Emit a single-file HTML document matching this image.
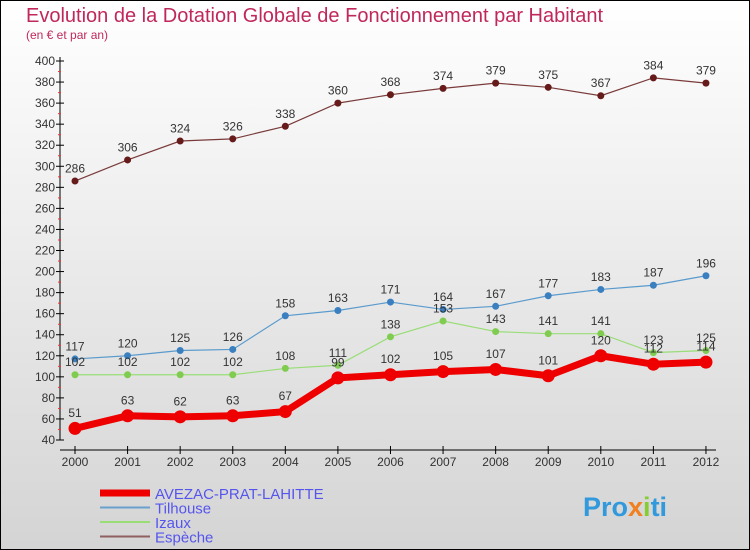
<!DOCTYPE html>
<html><head><meta charset="utf-8"><style>
body{margin:0;width:750px;height:550px;overflow:hidden;font-family:"Liberation Sans",sans-serif}
svg{display:block}
</style></head><body>
<svg id="c" width="750" height="550" xmlns="http://www.w3.org/2000/svg">
<defs><linearGradient id="bg" x1="0" y1="0" x2="0" y2="1"><stop offset="0" stop-color="#ffffff"/><stop offset="1" stop-color="#d4d4d4"/></linearGradient></defs>
<rect x="0.5" y="0.5" width="749" height="549" fill="url(#bg)" stroke="#000"/>
<text x="26" y="22" font-size="20" fill="#c0285a">Evolution de la Dotation Globale de Fonctionnement par Habitant</text>
<text x="26" y="39" font-size="12" fill="#c0285a">(en € et par an)</text>
<g id="axes"></g><g id="series"></g><g id="legend"></g>
<text x="583" y="516" font-size="27" font-weight="bold" fill="#3399dd">Pro<tspan fill="#f08020">x</tspan><tspan fill="#88cc33">i</tspan>ti</text>
</svg>
<script>
const years=[2000,2001,2002,2003,2004,2005,2006,2007,2008,2009,2010,2011,2012];
const yTicks=[40,60,80,100,120,140,160,180,200,220,240,260,280,300,320,340,360,380,400];
const avezac=[51,63,62,63,67,99,102,105,107,101,120,112,114];
const tilhouse=[117,120,125,126,158,163,171,164,167,177,183,187,196];
const izaux=[102,102,102,102,108,111,138,153,143,141,141,123,125];
const espeche=[286,306,324,326,338,360,368,374,379,375,367,384,379];
const NS="http://www.w3.org/2000/svg";
const X=i=>75+i*52.58, Y=v=>440-(v-40)*(379/360);
function mk(t,a,p){const e=document.createElementNS(NS,t);for(const k in a)e.setAttribute(k,a[k]);(p||document.getElementById('c')).appendChild(e);return e;}
const ax=document.getElementById('axes');
let yl=mk('line',{x1:60,y1:57,x2:60,y2:440,stroke:'#000'},ax);

let xl=mk('line',{x1:60,y1:450,x2:716,y2:450,stroke:'#000'},ax);

yTicks.forEach((v,i)=>{const y=Y(v);mk('line',{x1:56,y1:y,x2:64,y2:y,stroke:'#000'},ax);
if(i<yTicks.length-1)mk('line',{x1:58,y1:y-10.5,x2:61,y2:y-10.5,stroke:'#e33'},ax);
const t=mk('text',{x:55,y:y+4,'font-size':12,fill:'#333','text-anchor':'end'},ax);t.textContent=v;
});
years.forEach((yr,i)=>{const x=X(i);mk('line',{x1:x,y1:446,x2:x,y2:454,stroke:'#000'},ax);
const t=mk('text',{x:x,y:466,'font-size':12,fill:'#333','text-anchor':'middle'},ax);t.textContent=yr;
});
const sg=document.getElementById('series');
function series(d,col,dot,w,r,name){
const g=mk('g',{},sg);
mk('polyline',{points:d.map((v,i)=>X(i)+','+Y(v)).join(' '),fill:'none',stroke:col,'stroke-width':w},g);
d.forEach((v,i)=>{const c=mk('circle',{cx:X(i),cy:Y(v),r:r,fill:dot},g);

const t=mk('text',{x:X(i),y:Y(v)-(r+5),'font-size':12,fill:'#333','text-anchor':'middle'},g);t.textContent=v;
});}
series(espeche,'#7a3a3a','#661a1a',1.2,3.5,'espeche-series');
series(tilhouse,'#5a9acc','#3a80c0',1.2,3.5,'tilhouse-series');
series(izaux,'#99dd77','#80cc50',1.2,3.5,'izaux-series');
series(avezac,'#ee0000','#ee0000',7,6.5,'avezac-series');
const lg=document.getElementById('legend');
[['AVEZAC-PRAT-LAHITTE','#ee0000',7],['Tilhouse','#6aa0cc',2],['Izaux','#99dd77',2],['Espèche','#906060',2]].forEach((e,i)=>{
const y=493+i*14.5;const l=mk('line',{x1:100,y1:y,x2:150,y2:y,stroke:e[1],'stroke-width':e[2]},lg);

const t=mk('text',{x:155,y:y+6,'font-size':15,fill:'#5555ee'},lg);t.textContent=e[0];
});
</script>
</body></html>
